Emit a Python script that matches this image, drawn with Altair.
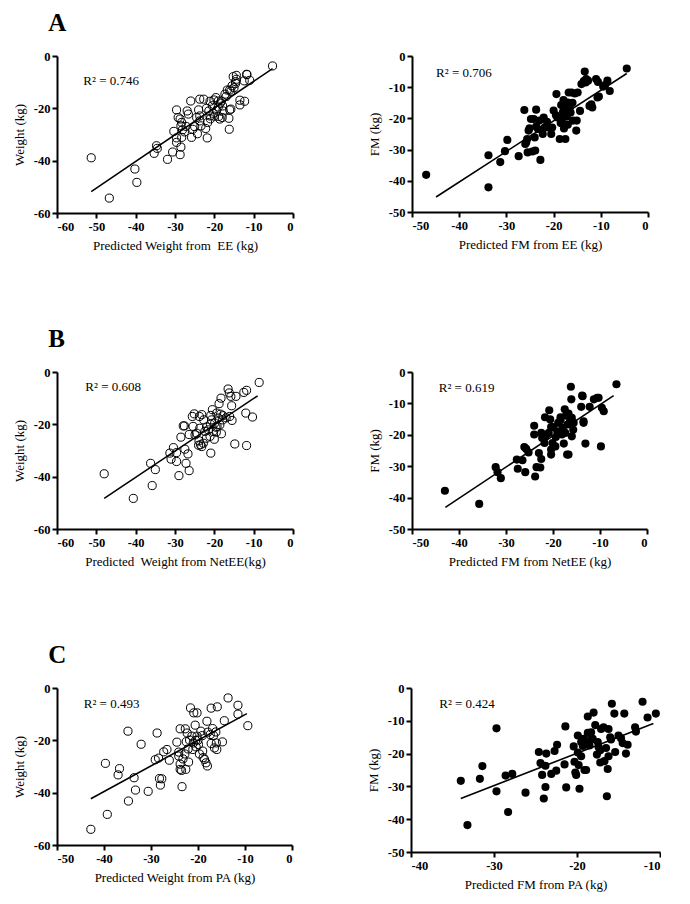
import altair as alt
import pandas as pd

FONT = "Liberation Serif"

# ---------------- Panel A left: Weight vs predicted weight from EE ----------------
al_x = [-51.3, -46.7, -40.2, -39.7, -35.3, -34.7, -34.5, -31.9, -30.6, -30.3, -29.6, -29.6, -29.6, -29.2,
        -28.7, -28.3, -28.5, -28.7, -28.5, -28.3, -28.1, -27.6, -27.2, -26.9, -26.6, -26.0, -25.8, -25.5,
        -24.3, -24.0, -23.7, -23.7, -23.7, -23.4, -22.7, -22.2, -21.8, -21.7, -21.4, -21.1, -21.1, -20.3,
        -20.1, -19.6, -19.4, -19.0, -18.9, -18.6, -18.2, -17.9, -17.8, -17.3, -16.7, -16.1, -16.1, -16.3,
        -16.2, -15.8, -15.8, -15.5, -15.2, -15.0, -14.6, -14.6, -14.4, -14.4, -13.5, -13.5, -12.3, -12.4,
        -11.8, -11.7, -11.0, -5.2, -22.0, -20.5, -19.0, -18.0, -21.0, -24.5, -25.0, -20.0, -17.0, -18.5]
al_y = [-38.9, -54.3, -43.2, -48.3, -37.2, -34.3, -35.3, -39.5, -36.7, -28.8, -20.6, -31.3, -33.0, -23.5,
        -24.1, -25.4, -26.7, -37.7, -34.8, -31.1, -28.2, -29.0, -26.9, -21.0, -22.2, -17.2, -31.1, -28.0,
        -29.7, -20.6, -16.5, -22.9, -24.8, -26.7, -16.5, -27.7, -31.3, -25.4, -21.0, -17.3, -22.9, -21.9,
        -16.8, -15.9, -20.7, -17.2, -23.1, -24.1, -17.2, -19.1, -21.0, -14.6, -13.0, -13.0, -20.6, -23.8,
        -28.0, -20.3, -13.5, -11.4, -7.9, -12.1, -9.8, -10.5, -7.4, -8.9, -18.7, -16.9, -17.3, -9.5,
        -7.0, -7.1, -9.3, -3.8, -20.0, -19.0, -19.5, -23.5, -24.0, -23.5, -27.0, -23.0, -15.5, -18.0]
al_line_x = [-51.3, -5.2]
al_line_y = [-51.8, -4.8]

# ---------------- Panel A right: FM vs predicted FM from EE ----------------
ar_x = [-47.0, -33.8, -33.8, -31.3, -30.3, -29.8, -27.4, -26.2, -26.0, -25.8, -25.6, -25.5, -25.3, -25.1,
        -24.8, -24.5, -24.2, -24.0, -23.9, -23.7, -23.7, -23.3, -23.0, -22.8, -22.3, -21.9, -22.1, -21.4,
        -21.1, -20.5, -20.3, -19.4, -19.2, -18.7, -18.4, -18.0, -18.2, -17.9, -17.8, -17.5, -17.3, -17.2,
        -17.0, -16.8, -16.6, -16.4, -16.2, -15.9, -15.2, -15.1, -14.9, -14.4, -14.1, -13.6, -13.4, -13.2,
        -13.1, -12.7, -12.4, -12.0, -11.8, -11.0, -10.6, -10.7, -10.4, -9.5, -9.1, -8.6, -8.1, -4.5,
        -19.5, -18.5, -17.0, -16.0, -20.0, -15.5]
ar_y = [-38.1, -42.1, -31.8, -34.0, -30.5, -26.9, -32.1, -17.3, -28.2, -27.7, -26.6, -30.9, -23.9, -23.2,
        -20.2, -30.6, -20.2, -26.1, -30.3, -17.2, -22.6, -23.4, -20.7, -33.3, -25.0, -22.9, -19.7, -21.1,
        -22.9, -25.0, -22.9, -12.2, -19.7, -26.6, -15.7, -17.9, -20.2, -14.1, -23.2, -26.6, -17.0, -19.4,
        -14.9, -11.7, -16.5, -18.1, -11.7, -20.7, -23.9, -20.7, -11.7, -17.6, -9.0, -8.0, -5.0, -8.5,
        -7.4, -7.9, -16.0, -15.5, -16.5, -7.4, -8.3, -13.3, -13.0, -9.8, -9.3, -7.9, -11.2, -4.0,
        -19.0, -21.5, -22.0, -15.0, -17.5, -12.0]
ar_line_x = [-44.9, -4.5]
ar_line_y = [-45.2, -5.6]

# ---------------- Panel B left: Weight vs predicted weight from NetEE ----------------
bl_x = [-48.0, -40.6, -36.2, -35.8, -35.0, -31.3, -31.0, -30.4, -29.6, -29.6, -29.0, -28.5, -27.9, -27.6,
        -27.5, -27.2, -26.7, -26.4, -26.4, -25.6, -25.4, -25.1, -24.9, -24.5, -23.9, -23.8, -23.7, -23.5,
        -23.2, -23.2, -22.8, -22.7, -22.4, -22.0, -21.5, -21.1, -20.9, -20.9, -20.7, -20.5, -20.3, -20.0,
        -19.9, -19.6, -19.4, -19.3, -19.0, -18.8, -18.6, -18.4, -18.3, -18.2, -17.9, -17.8, -16.5, -16.2,
        -16.1, -15.8, -15.6, -15.5, -14.8, -14.5, -12.5, -11.8, -12.0, -11.8, -10.3, -8.6,
        -22.0, -21.0, -19.5, -24.0, -17.0]
bl_y = [-38.9, -48.3, -34.9, -43.4, -37.3, -31.0, -33.3, -28.9, -30.8, -34.2, -39.6, -24.9, -20.6, -20.6,
        -29.5, -34.9, -31.3, -37.7, -23.9, -17.0, -20.8, -16.0, -24.0, -23.4, -26.3, -17.0, -21.5, -27.8,
        -16.3, -28.5, -27.2, -18.3, -22.7, -25.3, -22.1, -24.6, -31.0, -16.6, -18.3, -14.4, -22.7, -25.7,
        -19.5, -21.1, -15.7, -20.8, -17.6, -12.1, -20.2, -16.1, -10.0, -23.6, -18.3, -16.7, -6.5, -8.0,
        -17.0, -9.3, -12.9, -18.5, -27.5, -9.3, -7.8, -7.0, -15.7, -28.1, -17.2, -4.0,
        -21.0, -20.0, -23.0, -28.0, -17.5]
bl_line_x = [-48.0, -9.0]
bl_line_y = [-48.3, -9.1]

# ---------------- Panel B right: FM vs predicted FM from NetEE ----------------
br_x = [-43.0, -35.7, -32.2, -31.8, -31.1, -27.7, -27.5, -26.5, -26.1, -25.9, -25.7, -25.2, -24.0, -24.0,
        -23.8, -23.5, -23.0, -22.7, -22.5, -22.5, -22.3, -21.7, -21.8, -21.6, -20.9, -20.8, -20.6, -20.4,
        -20.4, -20.4, -20.1, -20.0, -19.5, -19.4, -19.1, -18.9, -18.4, -18.4, -18.1, -17.9, -17.7, -17.5,
        -17.4, -17.2, -17.0, -16.9, -16.7, -16.7, -16.4, -16.2, -16.1, -16.0, -16.0, -15.7, -15.6, -14.0,
        -13.8, -13.7, -13.5, -12.2, -11.3, -10.6, -10.3, -9.8, -9.6, -9.2, -6.5, -13.5, -13.1]
br_y = [-37.8, -42.0, -30.3, -31.9, -33.8, -27.9, -30.8, -28.1, -23.9, -31.9, -24.5, -25.6, -19.9, -17.1,
        -33.3, -30.3, -25.8, -30.4, -27.7, -19.4, -21.0, -14.4, -22.6, -20.5, -19.4, -12.2, -15.1, -17.5,
        -24.7, -26.3, -22.6, -17.5, -23.7, -20.7, -18.9, -16.2, -14.4, -15.4, -19.9, -17.8, -22.8, -11.9,
        -19.4, -13.9, -26.3, -16.7, -26.3, -13.2, -15.9, -4.7, -8.7, -20.5, -14.6, -18.4, -16.2, -11.1,
        -7.5, -7.7, -16.2, -11.1, -8.7, -8.2, -8.2, -23.7, -11.4, -12.5, -3.9, -15.7, -22.8]
br_line_x = [-42.9, -7.1]
br_line_y = [-43.1, -7.5]

# ---------------- Panel C left: Weight vs predicted weight from PA ----------------
cl_x = [-42.8, -39.3, -39.7, -37.0, -36.7, -34.9, -34.8, -33.6, -33.3, -32.1, -30.6, -29.1, -28.7, -28.4,
        -28.2, -28.0, -27.7, -27.3, -26.6, -26.1, -24.5, -24.1, -23.8, -23.4, -24.1, -23.8, -23.8, -23.5,
        -23.2, -22.8, -22.7, -22.6, -22.3, -22.1, -22.0, -21.8, -21.6, -21.3, -21.1, -20.9, -20.6, -20.4,
        -20.2, -20.2, -20.0, -19.9, -19.7, -19.4, -19.1, -19.0, -18.9, -18.6, -18.3, -18.1, -17.9, -17.4,
        -17.2, -17.2, -16.9, -16.7, -16.5, -16.2, -15.9, -16.1, -16.0, -14.8, -14.4, -13.6, -11.5, -11.5,
        -9.4, -21.0, -20.5, -22.5, -18.0]
cl_y = [-54.0, -48.3, -28.8, -33.2, -30.8, -16.5, -43.2, -34.3, -39.0, -21.5, -39.5, -27.4, -17.2, -26.8,
        -34.6, -37.1, -34.7, -24.4, -23.5, -27.6, -20.7, -24.5, -15.6, -37.7, -26.0, -31.1, -29.1, -31.5,
        -27.1, -25.2, -15.6, -31.1, -17.2, -23.3, -28.3, -19.9, -7.6, -18.4, -23.5, -9.5, -14.2, -22.5,
        -9.5, -18.4, -19.9, -21.6, -25.2, -16.5, -18.2, -24.1, -26.6, -27.3, -28.6, -12.7, -16.9, -17.8,
        -21.2, -7.7, -15.5, -18.2, -22.9, -16.8, -7.2, -21.0, -23.5, -20.6, -12.5, -3.8, -6.6, -10.0,
        -14.4, -21.0, -20.0, -20.5, -29.8]
cl_line_x = [-42.8, -9.6]
cl_line_y = [-42.3, -9.8]

# ---------------- Panel C right: FM vs predicted FM from PA ----------------
cr_x = [-34.0, -33.2, -31.7, -31.4, -29.7, -29.7, -28.6, -28.3, -27.8, -26.2, -24.6, -24.4, -24.2, -24.0,
        -23.8, -23.8, -23.7, -23.1, -22.7, -22.5, -22.4, -21.5, -21.4, -21.3, -20.4, -20.3, -20.2, -20.1,
        -19.9, -19.9, -19.8, -19.7, -19.5, -19.5, -19.3, -19.2, -19.1, -18.9, -18.7, -18.7, -18.6, -18.5,
        -18.3, -18.3, -18.1, -18.0, -17.8, -17.6, -17.5, -17.4, -17.2, -17.2, -17.1, -16.8, -16.7, -16.5,
        -16.4, -16.3, -16.2, -16.2, -16.0, -15.9, -15.8, -15.5, -15.4, -15.0, -14.7, -14.5, -14.3, -14.1,
        -13.9, -13.0, -12.9, -12.1, -11.5, -10.5]
cr_y = [-28.3, -41.8, -27.7, -23.8, -12.3, -31.5, -26.7, -37.8, -26.2, -31.9, -19.5, -22.9, -26.5, -33.7,
        -23.7, -30.2, -20.0, -26.2, -19.2, -25.2, -17.3, -23.3, -11.7, -30.3, -17.8, -22.5, -25.8, -26.5,
        -14.5, -19.7, -23.5, -30.7, -20.8, -16.5, -17.7, -15.5, -25.0, -25.0, -8.7, -13.7, -16.3, -17.5,
        -15.8, -13.5, -15.5, -7.5, -11.3, -20.3, -16.5, -18.0, -22.7, -19.0, -12.5, -12.0, -22.3, -18.3,
        -33.0, -24.7, -20.8, -12.5, -15.0, -15.7, -4.8, -7.8, -19.5, -14.5, -15.3, -16.8, -7.8, -20.0,
        -17.3, -12.0, -13.3, -4.2, -9.0, -7.8]
cr_line_x = [-34.0, -10.8]
cr_line_y = [-33.7, -10.8]

# R-squared annotations: text, x, y (data units)
r2_text = ["R² = 0.746", "R² = 0.706", "R² = 0.608", "R² = 0.619", "R² = 0.493", "R² = 0.424"]
r2_x = [-53.3, -44.9, -52.8, -44.3, -44.3, -36.6]
r2_y = [-9.5, -5.3, -5.9, -5.0, -6.1, -5.0]

x_titles = ["Predicted Weight from\u00a0 EE (kg)", "Predicted FM from EE (kg)",
            "Predicted\u00a0 Weight from NetEE(kg)", "Predicted FM from NetEE (kg)",
            "Predicted Weight from PA (kg)", "Predicted FM from PA (kg)"]
y_titles = ["Weight (kg)", "FM (kg)", "Weight (kg)", "FM (kg)", "Weight (kg)", "FM (kg)"]

ticks_60_0_10 = [-60, -50, -40, -30, -20, -10, 0]
ticks_50_0_10 = [-50, -40, -30, -20, -10, 0]
ticks_60_0_20 = [-60, -40, -20, 0]
ticks_40_10 = [-40, -30, -20, -10]

LABEL_EXPR = "replace(datum.label, '\u2212', '-')"


def panel(xs, ys, lx, ly, idx, xdom, ydom, xticks, yticks, filled, w, h):
    pts = pd.DataFrame({"x": xs, "y": ys})
    ln = pd.DataFrame({"x": lx, "y": ly})
    tx = pd.DataFrame({"x": [r2_x[idx]], "y": [r2_y[idx]], "t": [r2_text[idx]]})
    xs_ = alt.Scale(domain=xdom, nice=False, zero=False)
    ys_ = alt.Scale(domain=ydom, nice=False, zero=False)
    xax = alt.Axis(values=xticks, title=x_titles[idx], labelExpr=LABEL_EXPR, labelOverlap=False)
    yax = alt.Axis(values=yticks, title=y_titles[idx], labelExpr=LABEL_EXPR, labelOverlap=False)
    X = alt.X("x:Q", scale=xs_, axis=xax)
    Y = alt.Y("y:Q", scale=ys_, axis=yax)
    p = alt.Chart(pts).mark_point(
        shape="circle", filled=filled, size=66, color="black", opacity=1,
        strokeWidth=1 if not filled else 0
    ).encode(x=X, y=Y)
    l = alt.Chart(ln).mark_line(color="black", strokeWidth=1.6).encode(x=X, y=Y)
    t = alt.Chart(tx).mark_text(align="left", baseline="middle", font=FONT, fontSize=13,
                                color="black").encode(x=X, y=Y, text="t:N")
    return alt.layer(p, l, t).properties(width=w, height=h)


def row_title(letter):
    return alt.TitleParams(letter, anchor="start", font=FONT, fontSize=25, fontWeight="bold",
                           color="black", dx=35, offset=14)


rowA = alt.hconcat(
    panel(al_x, al_y, al_line_x, al_line_y, 0, [-60, 0], [-60, 0], ticks_60_0_10, ticks_60_0_20, False, 236, 157),
    panel(ar_x, ar_y, ar_line_x, ar_line_y, 1, [-50, 0], [-50, 0], ticks_50_0_10, ticks_50_0_10, True, 236, 156),
    spacing=74,
).properties(title=row_title("A"))

rowB = alt.hconcat(
    panel(bl_x, bl_y, bl_line_x, bl_line_y, 2, [-60, 0], [-60, 0], ticks_60_0_10, ticks_60_0_20, False, 236, 157),
    panel(br_x, br_y, br_line_x, br_line_y, 3, [-50, 0], [-50, 0], ticks_50_0_10, ticks_50_0_10, True, 235, 157),
    spacing=74,
).properties(title=row_title("B"))

rowC = alt.hconcat(
    panel(cl_x, cl_y, cl_line_x, cl_line_y, 4, [-50, 0], [-60, 0], ticks_50_0_10, ticks_60_0_20, False, 235, 157),
    panel(cr_x, cr_y, cr_line_x, cr_line_y, 5, [-40, -10], [-50, 0], ticks_40_10, ticks_50_0_10, True, 249, 164),
    spacing=74,
).properties(title=row_title("C"))

chart = alt.vconcat(rowA, rowB, rowC, spacing=74).properties(
    padding={"left": 5, "top": 3, "right": 0, "bottom": 0}
).configure_view(stroke=None).configure_axis(
    grid=False, labelOverlap=False,
    domainColor="black", domainWidth=2,
    tickColor="black", tickWidth=2, tickSize=5,
    labelFont=FONT, labelFontSize=12.5, labelFontWeight="bold", labelColor="black", labelPadding=2,
    titleFont=FONT, titleFontSize=13, titleFontWeight="normal", titleColor="black", titlePadding=7,
)

chart.save("out.html", embed_options={"renderer": "svg", "actions": False})
